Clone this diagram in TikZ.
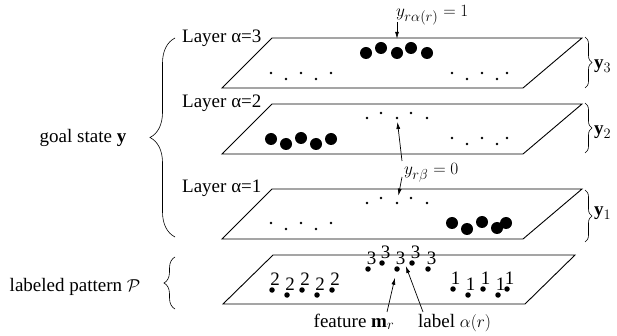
\documentclass[tikz,border=0pt]{standalone}
\usepackage{fontspec}
\setmainfont{Liberation Serif}
\usetikzlibrary{arrows.meta,decorations.pathreplacing}
\begin{document}
\begin{tikzpicture}[x=1pt,y=-1pt,
  plane/.style={draw,line width=0.9pt,line join=miter},
  bigdot/.style={circle,fill,inner sep=0pt,minimum size=12pt},
  smalldot/.style={circle,fill,inner sep=0pt,minimum size=2.6pt},
  patdot/.style={circle,fill,inner sep=0pt,minimum size=5.5pt},
  txt/.style={font=\fontsize{19}{21}\selectfont,inner sep=0pt},
  digit/.style={font=\fontsize{19}{21}\selectfont,inner sep=0pt},
  ptr/.style={-{Latex[length=7pt,width=4pt]},line width=0.7pt},
  bracedeco/.style={decorate,decoration={brace,amplitude=#1},line width=0.6pt},
]
\useasboundingbox (0,0) rectangle (617,336);

% planes
\draw[plane] (222,88) -- (523,88) -- (582,38) -- (272,38) -- cycle;
\draw[plane] (222,154) -- (523,154) -- (582,104) -- (272,104) -- cycle;
\draw[plane] (222,239) -- (523,239) -- (582,189) -- (272,189) -- cycle;
\draw[plane] (223,304) -- (525,304) -- (575,255) -- (273,255) -- cycle;

% layer 3
\foreach \x/\y [count=\i] in {366/53,381/48,397/53,411/48,427/53}
  \node[bigdot] (t\i) at (\x,\y) {};
\foreach \x/\y [count=\i] in {271/73,286/79,301/73,316/79,331/73}
  \node[smalldot] (tl\i) at (\x,\y) {};
\foreach \x/\y [count=\i] in {452/73,467/79,482/73,497/79,507/73}
  \node[smalldot] (tr\i) at (\x,\y) {};

% layer 2
\foreach \x/\y [count=\i] in {271/139,286/144,301/138,316/144,331/139}
  \node[bigdot] (m\i) at (\x,\y) {};
\foreach \x/\y [count=\i] in {367/118,381/113,397/118,411/113,427/118}
  \node[smalldot] (mm\i) at (\x,\y) {};
\foreach \x/\y [count=\i] in {452/138,467/144,482/138,497/144,507/138}
  \node[smalldot] (mr\i) at (\x,\y) {};

% layer 1
\foreach \x/\y [count=\i] in {271/223,286/229,301/223,316/229,331/223}
  \node[smalldot] (bl\i) at (\x,\y) {};
\foreach \x/\y [count=\i] in {367/203,381/198,397/203,411/198,427/203}
  \node[smalldot] (bm\i) at (\x,\y) {};
\foreach \x/\y [count=\i] in {452/223,467/229,482/222,497/228,506/223}
  \node[bigdot] (br\i) at (\x,\y) {};

% labeled pattern
\foreach \x/\y [count=\i] in {272/290,287/295,302/290,317/295,332/290}
  {\node[patdot] (p2\i) at (\x,\y) {};
   \node[digit] (q2\i) at (\x+3,\y-11) {2};}
\foreach \x/\y [count=\i] in {368/269,382/263,397/269,412/263,428/269}
  {\node[patdot] (p3\i) at (\x,\y) {};
   \node[digit] (q3\i) at (\x+3.5,\y-10.5) {3};}
\foreach \x/\y [count=\i] in {453/289,468/295,483/289,498/295,507/289}
  {\node[patdot] (p1\i) at (\x,\y) {};
   \node[digit] (q1\i) at (\x+2.5,\y-11) {1};}

% layer labels
\node[txt,anchor=base west] (L3) at (182,43) {Layer α=3};
\node[txt,anchor=base west] (L2) at (182,108) {Layer α=2};
\node[txt,anchor=base west] (L1) at (182,193) {Layer α=1};

% braces
\draw[bracedeco=25pt] (175,237) -- (175,38);
\draw[bracedeco=11pt] (175,309) -- (175,257);
\draw[bracedeco=7pt] (585,37) -- (585,88);
\draw[bracedeco=7pt] (585,103) -- (585,153);
\draw[bracedeco=7pt] (585,190) -- (585,242);

\node[txt,anchor=base west] (Y3) at (594,69) {$\mathbf{y}_3$};
\node[txt,anchor=base west] (Y2) at (594,135) {$\mathbf{y}_2$};
\node[txt,anchor=base west] (Y1) at (594,216) {$\mathbf{y}_1$};

\node[txt,anchor=base] (goal) at (83,143) {goal state $\mathbf{y}$};
\node[txt,anchor=base] (patlab) at (75,291) {labeled pattern $\mathcal{P}$};

% math labels and arrows
\node[txt,anchor=base west] (y1lab) at (396,17) {$y_{r\alpha(r)}=1$};
\coordinate (a1s) at (397,22);
\draw[ptr,shorten >=8pt] (a1s) -- (t3);

\node[txt,anchor=base west] (y0lab) at (404,175) {$y_{r\beta}=0$};
\coordinate (a2s) at (402,161);
\coordinate (a3s) at (402,177);
\draw[ptr,shorten >=2.5pt] (a2s) -- (mm3);
\draw[ptr,shorten >=6pt] (a3s) -- (bm3);

\node[txt,anchor=base] (featlab) at (354,327) {feature $\mathbf{m}_r$};
\node[txt,anchor=base west] (labellab) at (418,327) {label $\alpha(r)$};
\coordinate (a4s) at (387,312);
\coordinate (a5s) at (423,312);
\draw[ptr,shorten >=6pt] (a4s) -- (p33);
\draw[ptr,shorten >=1pt] (a5s) -- (q33.south east);
\end{tikzpicture}
\end{document}
